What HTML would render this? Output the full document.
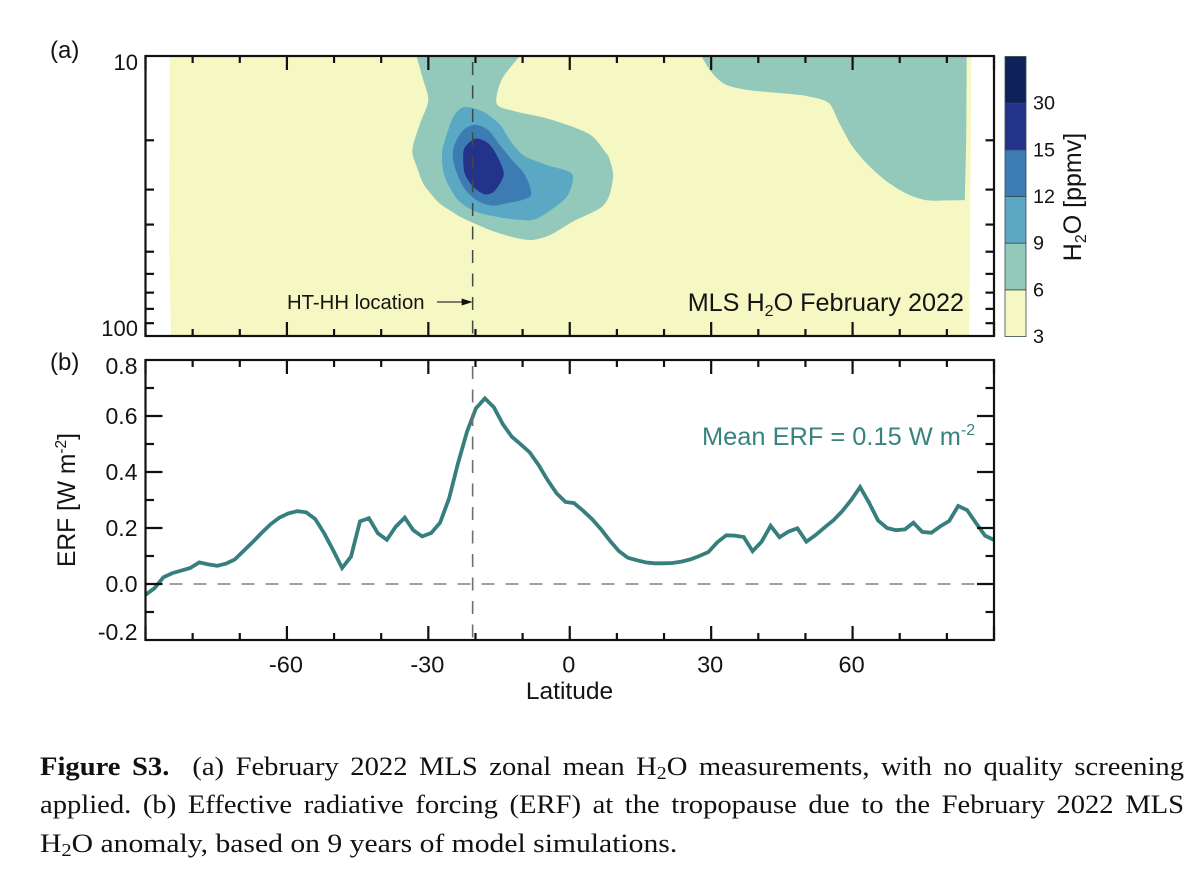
<!DOCTYPE html>
<html lang="en">
<head>
<meta charset="utf-8">
<title>Figure S3</title>
<style>
html,body{margin:0;padding:0;background:#fff;width:1200px;height:874px;overflow:hidden}
#fig{position:absolute;left:0;top:0}
text{font-family:"Liberation Sans",sans-serif;fill:#141414}
.cap{position:absolute;left:40px;width:1040px;font-family:"Liberation Serif",serif;font-size:26px;line-height:30px;color:#111;text-align:justify;text-align-last:justify;white-space:nowrap;transform:scaleX(1.1);transform-origin:0 0}
.cap.last{text-align-last:left;width:auto;transform:scaleX(1.14)}
.cap sub{font-size:18px;line-height:0;vertical-align:-4px}
</style>
</head>
<body>
<svg id="fig" width="1200" height="874" viewBox="0 0 1200 874">
  <defs><clipPath id="plot-a-clip"><rect x="145.5" y="56" width="848.5" height="280"/></clipPath></defs>
  <text x="50" y="58" font-size="24">(a)</text>
  <text x="50" y="370" font-size="24">(b)</text>
  <g id="contours" clip-path="url(#plot-a-clip)"></g>
  <g id="colorbar"></g>
  <g id="erf"></g>
  <g id="axes"></g>
  <text x="287" y="309" font-size="20.3">HT-HH location</text>
  <text x="964" y="311" text-anchor="end" font-size="25.2">MLS H<tspan font-size="16" dy="5">2</tspan><tspan dy="-5">O February 2022</tspan></text>
  <text x="702" y="445" font-size="25.4" style="fill:#36837f">Mean ERF = 0.15 W m<tspan font-size="16" dy="-10" style="fill:#36837f">-2</tspan></text>
  <text transform="translate(75,500) rotate(-90)" text-anchor="middle" font-size="24.6">ERF [W m<tspan font-size="15.5" dy="-9">-2</tspan><tspan dy="9">]</tspan></text>
  <text x="569.5" y="699" text-anchor="middle" font-size="24.5">Latitude</text>
  <text transform="translate(1081,197) rotate(-90)" text-anchor="middle" font-size="25">H<tspan font-size="16" dy="5">2</tspan><tspan dy="-5">O [ppmv]</tspan></text>
</svg>
<div class="cap" style="top:752px"><b>Figure S3.</b>&nbsp; (a) February 2022 MLS zonal mean H<sub>2</sub>O measurements, with no quality screening</div>
<div class="cap" style="top:790px">applied. (b) Effective radiative forcing (ERF) at the tropopause due to the February 2022 MLS</div>
<div class="cap last" style="top:829px">H<sub>2</sub>O anomaly, based on 9 years of model simulations.</div>
<script>
// ---- data ----
const latitudes = [-90,-88.1,-86.2,-84.3,-82.4,-80.5,-78.6,-76.7,-74.8,-72.9,-71.1,-69.2,-67.3,-65.4,-63.5,-61.6,-59.7,-57.8,-55.9,-54,-52.1,-50.2,-48.3,-46.4,-44.5,-42.6,-40.7,-38.8,-36.9,-35,-33.2,-31.3,-29.4,-27.5,-25.6,-23.7,-21.8,-19.9,-18,-16.1,-14.2,-12.3,-10.4,-8.5,-6.6,-4.7,-2.8,-0.9,0.9,2.8,4.7,6.6,8.5,10.4,12.3,14.2,16.1,18,19.9,21.8,23.7,25.6,27.5,29.4,31.3,33.2,35,36.9,38.8,40.7,42.6,44.5,46.4,48.3,50.2,52.1,54,55.9,57.8,59.7,61.6,63.5,65.4,67.3,69.2,71.1,72.9,74.8,76.7,78.6,80.5,82.4,84.3,86.2,88.1,90];
const erfValues = [-0.039,-0.015,0.024,0.039,0.048,0.057,0.077,0.070,0.065,0.073,0.087,0.118,0.149,0.182,0.213,0.237,0.252,0.260,0.256,0.232,0.181,0.121,0.057,0.098,0.224,0.235,0.181,0.158,0.205,0.237,0.192,0.170,0.182,0.219,0.306,0.431,0.544,0.627,0.663,0.631,0.571,0.526,0.499,0.470,0.425,0.371,0.324,0.293,0.289,0.262,0.232,0.196,0.155,0.118,0.094,0.085,0.077,0.074,0.074,0.075,0.080,0.088,0.100,0.114,0.149,0.174,0.173,0.168,0.117,0.151,0.208,0.167,0.187,0.199,0.151,0.174,0.201,0.227,0.260,0.300,0.346,0.290,0.227,0.200,0.192,0.195,0.219,0.186,0.183,0.206,0.225,0.279,0.264,0.217,0.173,0.157];
const latMajorTicks = [-90,-60,-30,0,30,60,90];
const latMinorTicks = [-80,-70,-50,-40,-20,-10,10,20,40,50,70,80];
const latTickLabels = [-60,-30,0,30,60];
const pressureTicks = [20,30,40,50,60,70,80,90];
const erfMajorTicks = [0.6,0.4,0.2,0];
const erfMinorTicks = [0.7,0.5,0.3,0.1,-0.1];
const erfTickLabels = ["0.8","0.6","0.4","0.2","0.0","-0.2"];
const erfTickLabelValues = [0.8,0.6,0.4,0.2,0,-0.2];
const colorLevels = [3,6,9,12,15,30];
const colorBandFills = ["#f6f8c4","#92c9bb","#5aa8c3","#3d7cb3","#24338a","#0e2159"];
const volcanoLat = -20.6;
const domainLatWest = [[-84.9,10],[-85,50],[-84.6,100]];
const domainLatEast = [[84.7,100],[84.9,50],[85.2,10]];
const contour6Blob = [[-32.5,10],[-31.2,12],[-30,14.4],[-31.8,17.5],[-33.4,21.7],[-32.4,25],[-31.1,28.5],[-29.5,31],[-27.6,33.6],[-25,36],[-22.6,38],[-17,41.8],[-12,44.4],[-8.1,45.4],[-4.2,43.6],[0.7,39],[6.4,35],[8.3,31.8],[9,28.5],[9.2,26.2],[8.5,23.5],[7.8,22.3],[4.9,19.4],[1.4,18.1],[-4.9,16.7],[-12,15.7],[-15.5,14.8],[-14.5,12.2],[-10.6,10]];
const contour6East = [[27.9,10],[30,11.4],[32.5,12.5],[35.3,13],[38.9,13.3],[45.2,13.6],[50.2,13.9],[54.9,14.7],[57.2,17.4],[60,21.1],[63.6,24.8],[67.8,28.5],[72.1,31.4],[76,32.8],[79.9,32.8],[83.8,32.7]];
const contour6EastEdge = [[84.1,20],[84.2,10]];
const contour9 = [[-22.3,15.2],[-18.4,15.8],[-14.8,17.6],[-12.7,20],[-9.9,22.6],[-4.9,24.5],[0.5,26.4],[-0.4,31.4],[-3.5,35],[-7.4,38.3],[-10.6,38.5],[-15.5,37.5],[-19.8,36],[-23.7,32.7],[-26.5,27],[-27.1,22.3],[-25.8,18.4],[-24.4,16.2]];
const contour12 = [[-20.1,17.6],[-17.3,18.4],[-14.8,20.8],[-12,23.8],[-9.5,26.6],[-8.3,31.6],[-13.4,33.6],[-16.6,34.2],[-19.8,32.7],[-22.6,29.3],[-24.6,24.2],[-24.6,21.1],[-22.6,18.4]];
const contour15 = [[-19.8,19.7],[-17.3,20.5],[-15.5,22.6],[-14,26.4],[-15.9,30.3],[-18,31.2],[-20.5,29.3],[-22.3,26.2],[-22.6,22.3],[-21.9,20.8]];

// ---- axis functions ----
const plotLeft = 145.5, plotRight = 994;
const aTop = 56, aBottom = 336, bTop = 360, bBottom = 640;
const xLat = v => plotLeft + (v + 90) / 180 * (plotRight - plotLeft);
const yPressure = p => aTop + (Math.log10(p) - 1) * (aBottom - aTop);
const yErf = v => bBottom - (v + 0.2) * (bBottom - bTop);
const yColor = i => 336.5 - i * 46.67;

const NS = 'http://www.w3.org/2000/svg';
function mk(parent, tag, attrs, txt) {
  const el = document.createElementNS(NS, tag);
  for (const k in attrs) el.setAttribute(k, attrs[k]);
  if (txt !== undefined) el.textContent = txt;
  parent.appendChild(el);
  return el;
}
const contourPts = pts => pts.map(p => xLat(p[0]).toFixed(1) + ',' + yPressure(p[1]).toFixed(1)).join(' ');
function spline(pts, closed) {
  const P = pts.map(p => [xLat(p[0]), yPressure(p[1])]);
  const n = P.length, k = 0.14;
  const at = i => closed ? P[(i + n) % n] : P[Math.max(0, Math.min(n - 1, i))];
  let d = 'M' + P[0][0].toFixed(1) + ' ' + P[0][1].toFixed(1);
  const last = closed ? n : n - 1;
  for (let i = 0; i < last; i++) {
    const a = at(i - 1), b = at(i), c = at(i + 1), e = at(i + 2);
    d += 'C' + (b[0] + (c[0] - a[0]) * k).toFixed(1) + ' ' + (b[1] + (c[1] - a[1]) * k).toFixed(1) + ' ' +
         (c[0] - (e[0] - b[0]) * k).toFixed(1) + ' ' + (c[1] - (e[1] - b[1]) * k).toFixed(1) + ' ' +
         c[0].toFixed(1) + ' ' + c[1].toFixed(1);
  }
  return d;
}
const lineTo = pts => pts.map(p => 'L' + xLat(p[0]).toFixed(1) + ' ' + yPressure(p[1]).toFixed(1)).join('');

// ---- panel (a) contours ----
const gC = document.getElementById('contours');
const field = mk(gC, 'polygon', {points: contourPts(domainLatWest.concat(domainLatEast)), fill: colorBandFills[0]});


const c6a = mk(gC, 'path', {d: spline(contour6Blob, false) + 'Z', fill: colorBandFills[1]});


const c6b = mk(gC, 'path', {d: spline(contour6East, false) + lineTo(contour6EastEdge) + 'Z', fill: colorBandFills[1]});


const c9 = mk(gC, 'path', {d: spline(contour9, true) + 'Z', fill: colorBandFills[2]});


const c12 = mk(gC, 'path', {d: spline(contour12, true) + 'Z', fill: colorBandFills[3]});


const c15 = mk(gC, 'path', {d: spline(contour15, true) + 'Z', fill: colorBandFills[4]});



// ---- colorbar ----
const gB = document.getElementById('colorbar');
colorBandFills.forEach((fill, i) => {
  const r = mk(gB, 'rect', {x: 1005, y: yColor(i + 1), width: 21, height: 46.67, fill: fill, stroke: '#3a4a50', 'stroke-width': 0.8});
  
  
});
colorLevels.forEach((lv, i) => {
  const t = mk(gB, 'text', {x: 1033, y: yColor(i) + 6.5, 'font-size': 19.8}, String(lv));
  
  
});

// ---- panel (b) ----
const gE = document.getElementById('erf');
const zero = mk(gE, 'line', {x1: xLat(-90), x2: xLat(90), y1: yErf(0), y2: yErf(0), stroke: '#808080', 'stroke-width': 1.5, 'stroke-dasharray': '13 11'});


const erfLine = mk(gE, 'polyline', {points: latitudes.map((la, i) => xLat(la).toFixed(1) + ',' + yErf(erfValues[i]).toFixed(1)).join(' '), fill: 'none', stroke: '#367f7c', 'stroke-width': 3.8, 'stroke-linejoin': 'miter'});



// ---- axes ----
const gA = document.getElementById('axes');
const locA = mk(gA, 'line', {x1: xLat(volcanoLat), x2: xLat(volcanoLat), y1: aTop + 6, y2: aBottom, stroke: '#3f4a45', 'stroke-width': 1.5, 'stroke-dasharray': '13 10.5'});


const locB = mk(gA, 'line', {x1: xLat(volcanoLat), x2: xLat(volcanoLat), y1: bTop + 6, y2: bBottom, stroke: '#707070', 'stroke-width': 1.6, 'stroke-dasharray': '13 10.5'});


const arrow = mk(gA, 'line', {x1: 437, x2: 462, y1: 302, y2: 302, stroke: '#333', 'stroke-width': 1.2});


const head = mk(gA, 'polygon', {points: (xLat(volcanoLat)) + ',302 ' + (xLat(volcanoLat) - 11) + ',298.5 ' + (xLat(volcanoLat) - 11) + ',305.5', fill: '#111'});



[[aTop, aBottom], [bTop, bBottom]].forEach(pair => {
  const fr = mk(gA, 'rect', {x: plotLeft, y: pair[0], width: plotRight - plotLeft, height: pair[1] - pair[0], fill: 'none', stroke: '#111', 'stroke-width': 2.2});
  
  
  latMajorTicks.concat(latMinorTicks).forEach(v => {
    const len = latMajorTicks.includes(v) ? 14 : 7;
    const t1 = mk(gA, 'line', {x1: xLat(v), x2: xLat(v), y1: pair[0], y2: pair[0] + len, stroke: '#111', 'stroke-width': 2.2});
    
    
    const t2 = mk(gA, 'line', {x1: xLat(v), x2: xLat(v), y1: pair[1], y2: pair[1] - len, stroke: '#111', 'stroke-width': 2.2});
    
    
  });
});
pressureTicks.forEach(p => {
  const l = mk(gA, 'line', {x1: plotLeft, x2: plotLeft + 8.5, y1: yPressure(p), y2: yPressure(p), stroke: '#111', 'stroke-width': 2.2});
  
  
  const r = mk(gA, 'line', {x1: plotRight, x2: plotRight - 8.5, y1: yPressure(p), y2: yPressure(p), stroke: '#111', 'stroke-width': 2.2});
  
  
});
const p10 = mk(gA, 'text', {x: 138, y: 70, 'text-anchor': 'end', 'font-size': 22}, '10');


const p100 = mk(gA, 'text', {x: 138, y: 336, 'text-anchor': 'end', 'font-size': 22}, '100');


erfMajorTicks.concat(erfMinorTicks).forEach(v => {
  const len = erfMajorTicks.includes(v) ? 17 : 8.5;
  const l = mk(gA, 'line', {x1: plotLeft, x2: plotLeft + len, y1: yErf(v), y2: yErf(v), stroke: '#111', 'stroke-width': 2.2});
  
  
  const r = mk(gA, 'line', {x1: plotRight, x2: plotRight - len, y1: yErf(v), y2: yErf(v), stroke: '#111', 'stroke-width': 2.2});
  
  
});
erfTickLabels.forEach((s, i) => {
  const v = erfTickLabelValues[i];
  const nudge = v === 0.8 ? 14 : (v === -0.2 ? 0 : 8);
  const t = mk(gA, 'text', {x: 137.5, y: yErf(v) + nudge, 'text-anchor': 'end', 'font-size': 23}, s);
  
  
});
latTickLabels.forEach(v => {
  const t = mk(gA, 'text', {x: xLat(v) - 1, y: 672.5, 'text-anchor': 'middle', 'font-size': 23.5}, String(v));
  
  
});
</script>
</body>
</html>
